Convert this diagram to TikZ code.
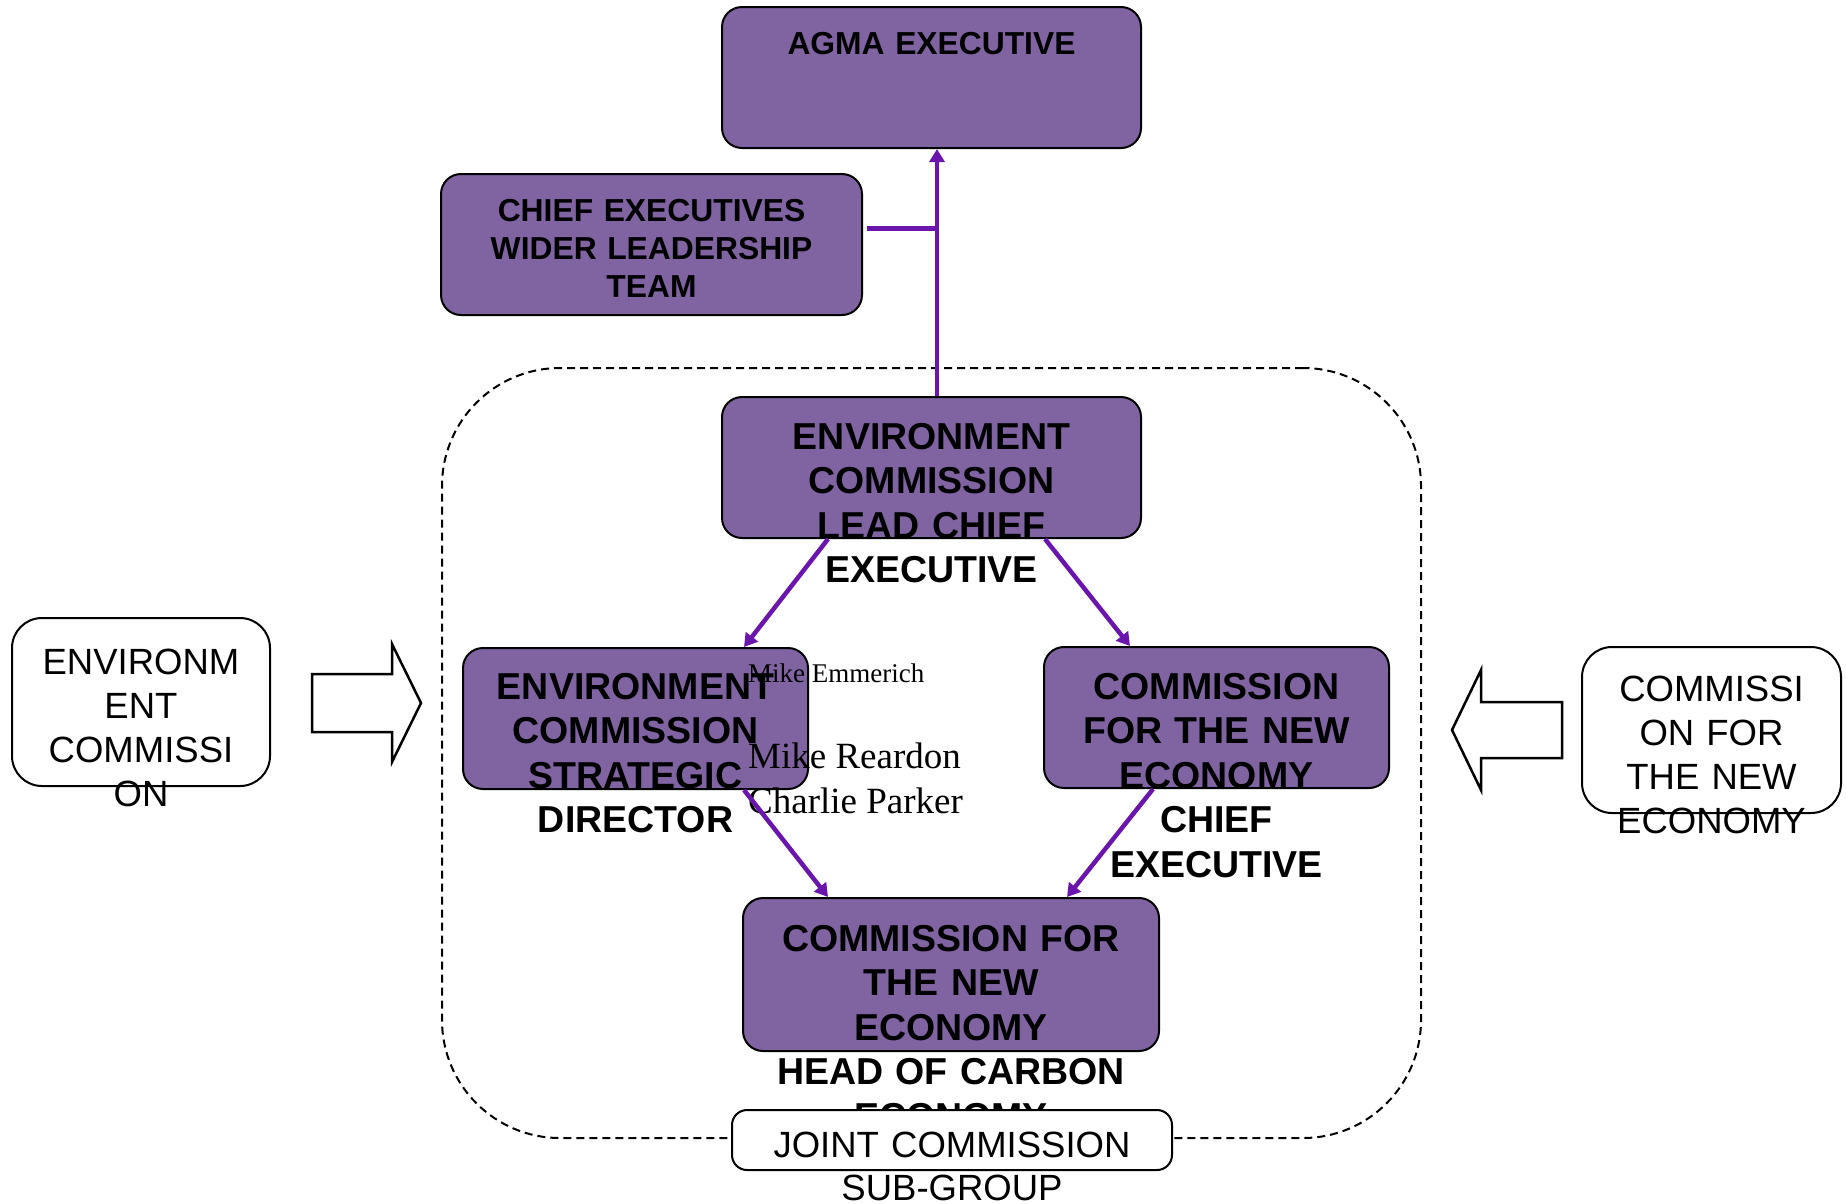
\documentclass[tikz,border=0pt]{standalone}
\usepackage{fontspec}
\setmainfont{Liberation Sans}
\newfontfamily\namefont{Liberation Serif}
\usepackage{xcolor}
\usepackage{tikz}
\usetikzlibrary{arrows.meta, positioning, calc}

\definecolor{boxpurple}{HTML}{8064A2}
\definecolor{linkviolet}{HTML}{6A16AC}

\tikzset{
    pbox/.style={draw=black, line width=2pt, fill=boxpurple, rounded corners=20pt, minimum height=141pt, inner sep=0pt},
    wbox/.style={draw=black, line width=2pt, fill=white, rounded corners=30pt, inner sep=0pt},
    boldtext/.style={anchor=base, inner sep=0pt, align=center, text width=440pt, font=\bfseries\fontsize{37.5}{44.5}\selectfont},
    smalltext/.style={boldtext, font=\bfseries\fontsize{31.8}{38}\selectfont},
    plaintext/.style={anchor=base, inner sep=0pt, align=center, text width=440pt, font=\fontsize{36.5}{44}\selectfont},
    nametext/.style={anchor=base west, inner sep=0pt, font=\namefont\fontsize{37}{45}\selectfont},
    link/.style={draw=linkviolet, line width=4.5pt, -{Triangle[width=15pt,length=13pt]}},
    linkline/.style={draw=linkviolet, line width=4.5pt},
    blockarrow/.style={draw=black, line width=2.5pt, fill=white, line join=miter},
}

\begin{document}
\begin{tikzpicture}[x=1pt, y=-1pt]
    \useasboundingbox (0,0) rectangle (1846,1203);

    % Joint sub-group frame
    \node[draw=black, line width=2pt, dash pattern=on 8pt off 5pt, rounded corners=118pt,
          minimum width=979pt, minimum height=770pt, inner sep=0pt] (subgroup) at (931.5,753) {};

    % Purple boxes
    \node[pbox, minimum width=419pt] (agma) at (931.5,77.5) {};
    \node[pbox, minimum width=421pt] (chief) at (651.5,244.5) {};
    \node[pbox, minimum width=419pt] (lead) at (931.5,467.5) {};
    \node[pbox, minimum width=345pt] (env) at (635.5,718.5) {};
    \node[pbox, minimum width=345pt] (cne) at (1216.5,717.5) {};
    \node[pbox, minimum width=416pt, minimum height=153pt] (carbon) at (951,974.5) {};

    % Box texts
    \node[smalltext, font=\bfseries\fontsize{31.8}{38}\selectfont] (agma-t) at ([yshift=-48pt]agma.north) {AGMA EXECUTIVE};
    \node[smalltext] (chief-t) at ([yshift=-48pt]chief.north) {CHIEF EXECUTIVES\\WIDER LEADERSHIP\\TEAM};
    \node[boldtext] (lead-t) at ([yshift=-53pt]lead.north) {ENVIRONMENT\\COMMISSION\\LEAD CHIEF\\EXECUTIVE};
    \node[boldtext] (env-t) at ([yshift=-52pt]env.north) {ENVIRONMENT\\COMMISSION\\STRATEGIC\\DIRECTOR};
    \node[boldtext] (cne-t) at ([yshift=-53pt]cne.north) {COMMISSION\\FOR THE NEW\\ECONOMY\\CHIEF\\EXECUTIVE};
    \node[boldtext] (carbon-t) at ([yshift=-54pt]carbon.north) {COMMISSION FOR\\THE NEW\\ECONOMY\\HEAD OF CARBON\\ECONOMY};

    % Names
    \node[nametext, font=\namefont\fontsize{27}{32}\selectfont] (emmerich) at (748,682) {Mike Emmerich};
    \node[nametext] (reardon) at (748,768) {Mike Reardon};
    \node[nametext] (parker) at (748,813) {Charlie Parker};

    % Connectors
    \coordinate (trunk) at ([xshift=5.5pt]agma.south);
    \draw[link] ([xshift=5.5pt]lead.north) -- (trunk);
    \draw[linkline] ([xshift=4pt, yshift=16pt]chief.east) -- ([yshift=16pt]chief.east -| trunk);
    \draw[link] ([xshift=-103.5pt]lead.south) -- ([xshift=108.5pt]env.north);
    \draw[link] ([xshift=113.5pt]lead.south) -- ([xshift=-86.5pt]cne.north);
    \draw[link] ([xshift=108.5pt]env.south) -- ([xshift=-123pt]carbon.north);
    \draw[link] ([xshift=-63.5pt]cne.south) -- ([xshift=116pt]carbon.north);

    % Joint commission label
    \node[wbox, rounded corners=15pt, minimum width=440pt, minimum height=60pt] (joint) at (952,1140) {};
    \node[plaintext, font=\fontsize{36.5}{43}\selectfont] (joint-t) at ([yshift=-48pt]joint.north) {JOINT COMMISSION\\SUB-GROUP};

    % Side commissions
    \node[wbox, minimum width=258pt, minimum height=168pt] (envcomm) at (141,702) {};
    \node[plaintext] (envcomm-t) at ([yshift=-57pt]envcomm.north) {ENVIRONM\\ENT\\COMMISSI\\ON};
    \node[wbox, minimum width=259pt, minimum height=166pt] (cnecomm) at (1711.5,730) {};
    \node[plaintext] (cnecomm-t) at ([yshift=-55pt]cnecomm.north) {COMMISSI\\ON FOR\\THE NEW\\ECONOMY};

    % Block arrows
    \draw[blockarrow] (312,674) -- (392,674) -- (392,644) -- (421,703) -- (392,762) -- (392,732) -- (312,732) -- cycle;
    \draw[blockarrow] (1562,702) -- (1481,702) -- (1481,670) -- (1452,730) -- (1481,790) -- (1481,758) -- (1562,758) -- cycle;
\end{tikzpicture}
\end{document}
